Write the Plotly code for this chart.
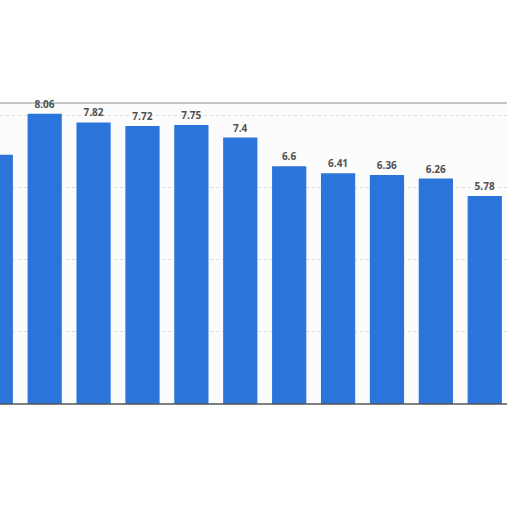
import plotly.graph_objects as go

# values, left to right
categories = ["c1", "c2", "c3", "c4", "c5", "c6", "c7", "c8", "c9", "c10", "c11"]
values = [6.92, 8.06, 7.82, 7.72, 7.75, 7.4, 6.6, 6.41, 6.36, 6.26, 5.78]
labels = ["6.92", "8.06", "7.82", "7.72", "7.75", "7.4", "6.6", "6.41", "6.36", "6.26", "5.78"]

fig = go.Figure()
fig.add_trace(go.Bar(
    x=list(range(len(categories))),
    y=values,
    text=labels,
    textposition="outside",
    cliponaxis=False,
    textfont=dict(family="Open Sans", size=10, color="#505050", weight="bold"),
    marker=dict(color="#2b74d9", line=dict(width=0)),
    width=0.70,
))

fig.update_layout(
    width=512, height=512,
    margin=dict(l=0, r=5, t=103, b=108),
    paper_bgcolor="white",
    plot_bgcolor="#fcfcfc",
    showlegend=False,
    xaxis=dict(range=[0.086, 10.455], showticklabels=False, showgrid=False,
               zeroline=False, showline=False, ticks=""),
    yaxis=dict(range=[0, 8.36], tickvals=[2, 4, 6, 8], showticklabels=False,
               showgrid=True, gridcolor="#dddddd", griddash="dot", gridwidth=1,
               zeroline=False, showline=False, ticks=""),
    shapes=[
        dict(type="line", xref="paper", yref="paper", x0=0, x1=1, y0=0, y1=0,
             line=dict(color="#555555", width=1.5)),
        dict(type="line", xref="paper", yref="paper", x0=0, x1=1, y0=1, y1=1,
             layer="below", line=dict(color="#c4c4c4", width=2)),
    ],
)

# the page's default 8px body margin would shift the whole chart
fig.write_html("out.html", config={"displayModeBar": False},
               post_script="document.body.style.margin='0';")
